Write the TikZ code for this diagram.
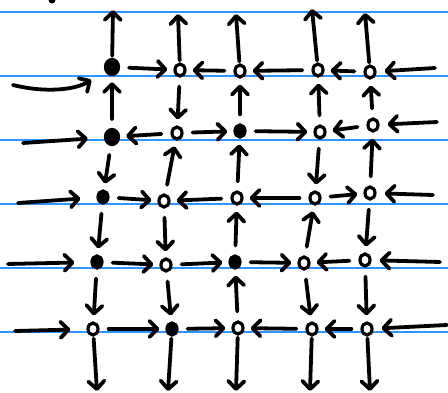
\documentclass[tikz,border=0pt]{standalone}
\usepackage{tikz}
\usetikzlibrary{arrows.meta,positioning,shapes.geometric}
\definecolor{ruleblue}{RGB}{45,150,250}

\begin{document}
\begin{tikzpicture}[x=1pt,y=-1pt,
  dot/.style={ellipse,draw,line width=3.2pt,inner sep=1.8pt,minimum width=10pt,minimum height=12pt,fill=white},
  fdot/.style={dot,fill=black},
  bigdot/.style={dot,fill=black,minimum width=13pt,minimum height=15pt},
  arr/.style={line width=3.8pt,line cap=round,-{Straight Barb[round,length=8pt,width=16pt]}},
  link/.style={arr,shorten <=9pt,shorten >=6pt},
  inl/.style={arr,shorten >=16pt},
  inr/.style={arr,shorten >=8pt},
  outv/.style={arr,shorten <=2pt}]
  \useasboundingbox (0,0) rectangle (448,393);
  % ruled paper
  \foreach \y in {12,76,140,204,268,332}
    \draw[ruleblue,line width=1.2pt] (0,\y) -- (448,\y);
  \fill (52,0) circle (3.5);

  % grid points
  \node[bigdot] (p11) at (112,67) {};
  \node[dot] (p12) at (180,70) {};
  \node[dot] (p13) at (240,71) {};
  \node[dot] (p14) at (318,70) {};
  \node[dot] (p15) at (370,72) {};
  \node[bigdot] (p21) at (112,137) {};
  \node[dot] (p22) at (177,133) {};
  \node[fdot] (p23) at (240,131) {};
  \node[dot] (p24) at (320,132) {};
  \node[dot] (p25) at (373,125) {};
  \node[fdot] (p31) at (103,197) {};
  \node[dot] (p32) at (164,201) {};
  \node[dot] (p33) at (237,198) {};
  \node[dot] (p34) at (315,198) {};
  \node[dot] (p35) at (370,193) {};
  \node[fdot] (p41) at (97,262) {};
  \node[dot] (p42) at (166,265) {};
  \node[fdot] (p43) at (235,262) {};
  \node[dot] (p44) at (304,263) {};
  \node[dot] (p45) at (365,260) {};
  \node[dot] (p51) at (93,329) {};
  \node[fdot] (p52) at (172,329) {};
  \node[dot] (p53) at (238,328) {};
  \node[dot] (p54) at (312,329) {};
  \node[dot] (p55) at (367,329) {};

  % free ends
  \coordinate (l1) at (13,85);  \coordinate (r1) at (435,68);
  \coordinate (l2) at (23,143); \coordinate (r2) at (437,122);
  \coordinate (l3) at (18,203); \coordinate (r3) at (433,195);
  \coordinate (l4) at (8,264);  \coordinate (r4) at (440,262);
  \coordinate (l5) at (15,331); \coordinate (r5) at (447,325);
  \coordinate (t1) at (113,10); \coordinate (b1) at (97,391);
  \coordinate (t2) at (178,14); \coordinate (b2) at (168,391);
  \coordinate (t3) at (236,14); \coordinate (b3) at (236,391);
  \coordinate (t4) at (312,9);  \coordinate (b4) at (310,391);
  \coordinate (t5) at (365,13); \coordinate (b5) at (370,391);

  % flow between points
  \foreach \a/\b in {11/12,13/12,14/13,15/14, 22/21,22/23,23/24,25/24,
                     31/32,33/32,34/33,34/35, 41/42,42/43,43/44,45/44,
                     51/52,52/53,54/53,55/54}
    \draw[link] (p\a) -- (p\b);
  \foreach \a/\b in {21/11,12/22,23/13,24/14,25/15, 21/31,32/22,33/23,24/34,35/25,
                     31/41,32/42,43/33,44/34,35/45, 41/51,42/52,53/43,44/54,45/55}
    \draw[link] (p\a) -- (p\b);

  % boundary
  \draw[inl] (l1) .. controls (45,93) and (75,90) .. (p11);
  \foreach \r in {2,...,5} {
    \draw[inl] (l\r) -- (p\r1);
    \draw[inr] (r\r) -- (p\r5);
  }
  \draw[inr] (r1) -- (p15);
  \foreach \c in {1,...,5} {
    \draw[outv] (p1\c) -- (t\c);
    \draw[outv] (p5\c) -- (b\c);
  }
\end{tikzpicture}
\end{document}
